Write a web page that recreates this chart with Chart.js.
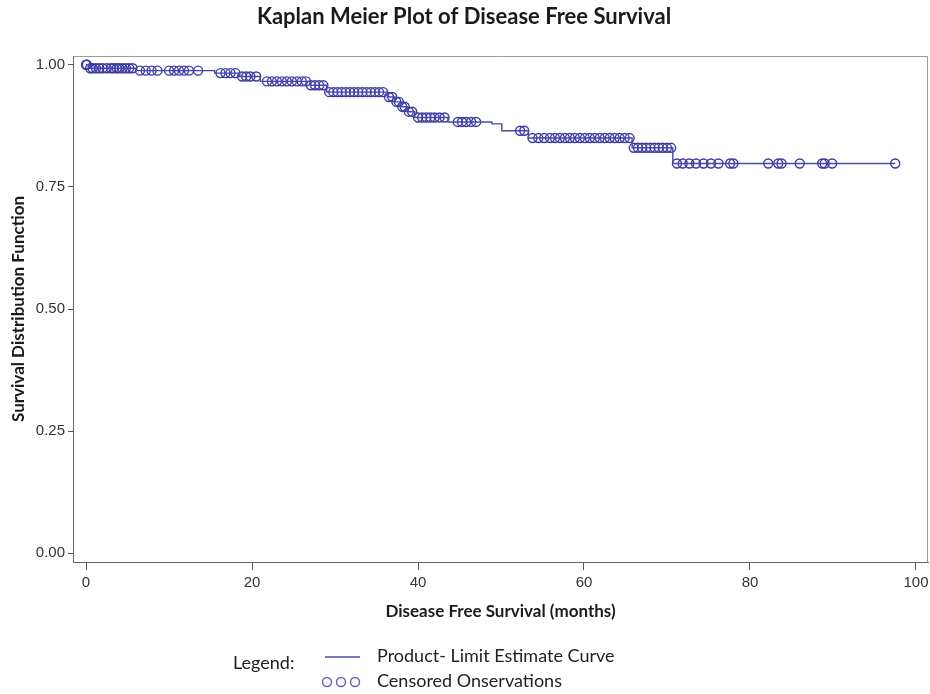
<!DOCTYPE html>
<html>
<head>
<meta charset="utf-8">
<script src="https://cdn.jsdelivr.net/npm/chart.js@4.4.1/dist/chart.umd.min.js"></script>
<style>
    html, body { margin: 0; padding: 0; background: #fff; }
    #wrap { width: 930px; height: 694px; }
</style>
</head>
<body>
<div id="wrap"><canvas id="kmChart" width="930" height="694"></canvas></div>
<script>
// Kaplan-Meier estimate: times (months) where the curve drops, and the value after each drop
const eventTimes = [0, 0.3, 6.0, 15.5, 18.5, 21.0, 27.0, 29.0, 36.3, 37.2, 37.9, 38.7, 39.6, 43.6, 48.9, 50.1, 53.3, 65.8, 70.7, 97.5];
const survivalValues = [1.0, 0.993, 0.988, 0.983, 0.976, 0.966, 0.958, 0.944, 0.934, 0.924, 0.914, 0.904, 0.892, 0.883, 0.879, 0.865, 0.850, 0.830, 0.798, 0.798];

// censored observations (months)
const censorTimes = [
    0, 0.1, 0.5, 0.8, 1.2, 1.6, 2.0, 2.5, 3.0, 3.3, 3.7, 4.0, 4.4, 4.8, 5.2, 5.6,
    6.5, 7.2, 7.9, 8.6, 10.0, 10.6, 11.2, 11.8, 12.4, 13.5,
    16.2, 16.8, 17.4, 18.0, 18.8, 19.3, 19.8, 20.5,
    21.8, 22.4, 23.0, 23.6, 24.2, 24.8, 25.4, 26.0, 26.5,
    27.1, 27.6, 28.1, 28.6,
    29.3, 29.8, 30.3, 30.8, 31.3, 31.8, 32.3, 32.8, 33.3, 33.8, 34.3, 34.8, 35.3, 35.8,
    36.5, 36.9, 37.4, 37.7, 38.1, 38.4, 38.9, 39.3,
    40.0, 40.5, 41.0, 41.5, 42.0, 42.6, 43.2,
    44.8, 45.3, 45.8, 46.4, 47.0, 52.3, 52.8,
    53.8, 54.5, 55.2, 55.9, 56.5, 57.1, 57.7, 58.3, 58.9, 59.5, 60.1, 60.7, 61.3, 61.9, 62.5, 63.1, 63.7, 64.3, 64.9, 65.5,
    66.0, 66.5, 67.0, 67.5, 68.0, 68.5, 69.0, 69.5, 70.0, 70.5,
    71.2, 71.9, 72.7, 73.5, 74.4, 75.3, 76.2, 77.6, 78.0, 82.2, 83.4, 83.8, 86.0, 88.7, 89.0, 89.9, 97.5
];

const xTicks = [0, 20, 40, 60, 80, 100];
const yTicks = [0, 0.25, 0.5, 0.75, 1.0];

const BLUE = '#4848aa';
const MARK = '#3a3aa4';

const survivalAt = (t) => {
    var s = survivalValues[0];
    for (var i = 0; i < eventTimes.length; i++) {
        if (eventTimes[i] <= t) s = survivalValues[i];
    }
    return s;
}

const curvePoints = eventTimes.map((t, i) => ({ x: t, y: survivalValues[i] }));
const censorPoints = censorTimes.map(t => ({ x: t, y: survivalAt(t) }));

// frame round the plot + custom legend below
const framePlugin = {
    id: 'frame',
    beforeDatasetsDraw(chart) {
        const a = chart.chartArea;
        const ctx = chart.ctx;
        ctx.save();
        ctx.strokeStyle = '#9a9a9a';
        ctx.lineWidth = 1;
        ctx.beginPath();
        ctx.moveTo(a.left, a.top + 0.5);
        ctx.lineTo(a.right - 0.5, a.top + 0.5);
        ctx.lineTo(a.right - 0.5, a.bottom);
        ctx.stroke();
        ctx.restore();
    },
    afterDraw(chart) {
        const ctx = chart.ctx;
        ctx.save();
        ctx.font = '18px Lato';
        ctx.fillStyle = '#222';
        ctx.textBaseline = 'middle';
        ctx.fillText('Legend:', 233, 663);
        ctx.fillText('Product- Limit Estimate Curve', 377, 656);
        ctx.fillText('Censored Onservations', 377, 681);
        ctx.strokeStyle = BLUE;
        ctx.lineWidth = 1.5;
        ctx.beginPath();
        ctx.moveTo(325, 657);
        ctx.lineTo(360, 657);
        ctx.stroke();
        ctx.strokeStyle = '#6a60b8';
        [327, 341, 355].forEach(function (cx) {
            ctx.beginPath();
            ctx.arc(cx, 682, 4.5, 0, Math.PI * 2);
            ctx.stroke();
        });
        ctx.restore();
    }
};

new Chart('kmChart', {
    type: 'scatter',
    data: {
        datasets: [{
            label: 'Product- Limit Estimate Curve',
            type: 'line',
            data: curvePoints,
            stepped: true,
            borderColor: BLUE,
            borderWidth: 1.4,
            pointRadius: 0,
            fill: false
        }, {
            label: 'Censored Onservations',
            data: censorPoints,
            pointStyle: 'circle',
            pointRadius: 4.5,
            pointBorderWidth: 1.4,
            borderColor: MARK,
            backgroundColor: 'rgba(255,255,255,0)'
        }]
    },
    options: {
        responsive: false,
        devicePixelRatio: 1,
        animation: false,
        layout: { autoPadding: false, padding: { left: 0, right: 2, top: 0, bottom: 70 } },
        plugins: {
            legend: { display: false },
            tooltip: { enabled: false },
            title: {
                display: true,
                text: 'Kaplan Meier Plot of Disease Free Survival',
                color: '#1a1a1a',
                font: { family: 'Lato', size: 22, weight: 'bold', lineHeight: 1.2 },
                padding: { top: 4, bottom: 25.6 }
            }
        },
        scales: {
            x: {
                type: 'linear',
                min: -1.57,
                max: 101.45,
                afterBuildTicks: s => { s.ticks = xTicks.map(v => ({ value: v })); },
                afterFit: s => { s.height = 62; s.paddingRight = 0; s.paddingLeft = 0; },
                grid: { display: true, drawOnChartArea: false, drawTicks: true, tickLength: 8, color: '#555' },
                border: { display: true, color: '#666', width: 1 },
                ticks: { color: '#333', padding: 4, maxRotation: 0, font: { family: 'Liberation Sans', size: 15 } },
                title: {
                    display: true,
                    text: 'Disease Free Survival (months)',
                    color: '#1a1a1a',
                    font: { family: 'Lato', size: 17, weight: 'bold', lineHeight: 1.2 },
                    padding: { top: 0, bottom: 2 }
                }
            },
            y: {
                min: -0.018,
                max: 1.018,
                afterBuildTicks: s => { s.ticks = yTicks.map(v => ({ value: v })); },
                afterFit: s => { s.width = 73; },
                grid: { display: true, drawOnChartArea: false, drawTicks: true, tickLength: 5, color: '#555' },
                border: { display: true, color: '#666', width: 1 },
                ticks: {
                    color: '#333', padding: 3,
                    font: { family: 'Liberation Sans', size: 15 },
                    callback: v => v.toFixed(2)
                },
                title: {
                    display: true,
                    text: 'Survival Distribution Function',
                    color: '#1a1a1a',
                    font: { family: 'Lato', size: 17, weight: 'bold', lineHeight: 1.2 },
                    padding: { top: 8, bottom: 0 }
                }
            }
        }
    },
    plugins: [framePlugin]
});
</script>
</body>
</html>
